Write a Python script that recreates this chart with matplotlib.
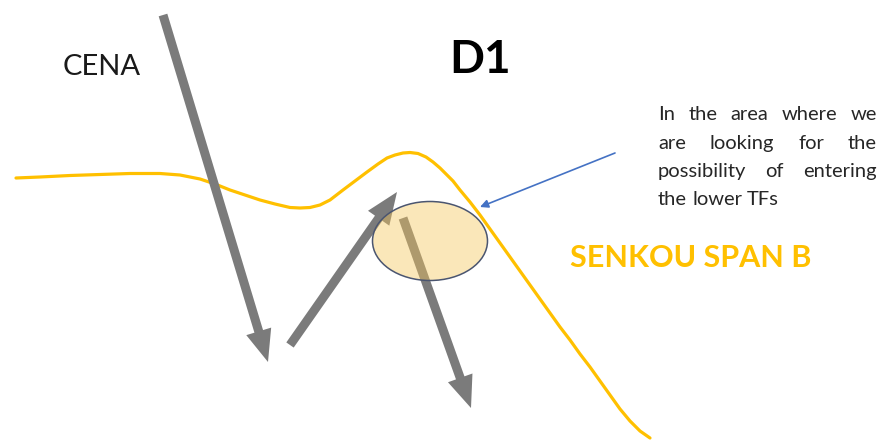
import matplotlib
matplotlib.use('Agg')
import matplotlib.pyplot as plt
from matplotlib.patches import Ellipse

# senkou span B line (pixel coords, y down)
span_x = [16, 40, 70, 100, 130, 160, 180, 200, 215, 230, 245, 260, 275, 290,
          300, 310, 320, 330, 343, 355, 367, 378, 387, 395, 403, 410, 418,
          426, 433, 440, 447, 453, 460, 470, 480, 490, 500, 510, 520, 530,
          540, 550, 560, 570, 580, 590, 600, 610, 620, 630, 640, 650]
span_y = [178, 177, 175.5, 174.5, 173.5, 173.5, 175, 179, 184, 190, 195, 200,
          204, 207.5, 208, 207.5, 205, 200, 190, 181, 172, 164, 158, 155, 153,
          152.5, 153.5, 157, 162, 168, 175, 181, 190, 202, 215, 229, 243,
          257, 271, 285, 299, 313, 327, 340, 354, 367, 381, 395, 409, 421,
          431, 438]

# price moves: start -> tip
move_start = [(163, 15), (290, 345), (403, 218)]
move_end = [(268, 362), (397, 192), (471, 408)]

zone_center = (430, 241)
zone_size = (115, 79)

note_lines = ['In the area where we', 'are looking for the',
              'possibility of entering', 'the lower TFs']
note_justify = [True, True, True, False]

gold = '#FFC000'
grey = '#7b7b7b'
font = 'Lato'

fig = plt.figure(figsize=(8.81, 4.41), dpi=100)
ax = fig.add_axes([0, 0, 1, 1])
ax.set_xlim(0, 881)
ax.set_ylim(441, 0)
ax.axis('off')

ax.plot(span_x, span_y, color=gold, lw=2.3, solid_capstyle='round',
        solid_joinstyle='round', zorder=2)

for (x0, y0), (x1, y1) in zip(move_start, move_end):
    ax.arrow(x0, y0, x1 - x0, y1 - y0, width=9, head_width=26, head_length=32,
             length_includes_head=True, color=grey, lw=0, zorder=3)

ax.add_patch(Ellipse(zone_center, *zone_size, facecolor='#F5C65A', alpha=0.42,
                     edgecolor='none', zorder=4))
ax.add_patch(Ellipse(zone_center, *zone_size, facecolor='none',
                     edgecolor='#4a5570', lw=1.1, zorder=5))

ax.annotate('', xy=(480, 207), xytext=(615, 153),
            arrowprops=dict(arrowstyle='-|>', color='#4472C4', lw=1.2,
                            mutation_scale=12, shrinkA=0, shrinkB=0), zorder=6)

ax.text(63, 75, 'CENA', fontsize=21, family=font, color='#1a1a1a',
        ha='left', va='baseline')
ax.text(449, 73, 'D1', fontsize=33, family=font, weight='bold', color='black',
        ha='left', va='baseline')
ax.text(570, 267, 'SENKOU SPAN B', fontsize=22, family=font, weight='bold',
        color=gold, ha='left', va='baseline')

# justified note on the right
renderer = fig.canvas.get_renderer()
left, right = 658, 877
baselines = [120, 149, 177, 205]
note_size = 14.5
for line, just, yb in zip(note_lines, note_justify, baselines):
    words = line.split()
    texts = [ax.text(0, yb, w, fontsize=note_size, family=font, color='#262626',
                     ha='left', va='baseline') for w in words]
    widths = [t.get_window_extent(renderer).width for t in texts]
    if just and len(words) > 1:
        gap = (right - left - sum(widths)) / (len(words) - 1)
    else:
        gap = 5
    x = left
    for t, w in zip(texts, widths):
        t.set_x(x)
        x += w + gap

fig.savefig('out.png', dpi=100)
